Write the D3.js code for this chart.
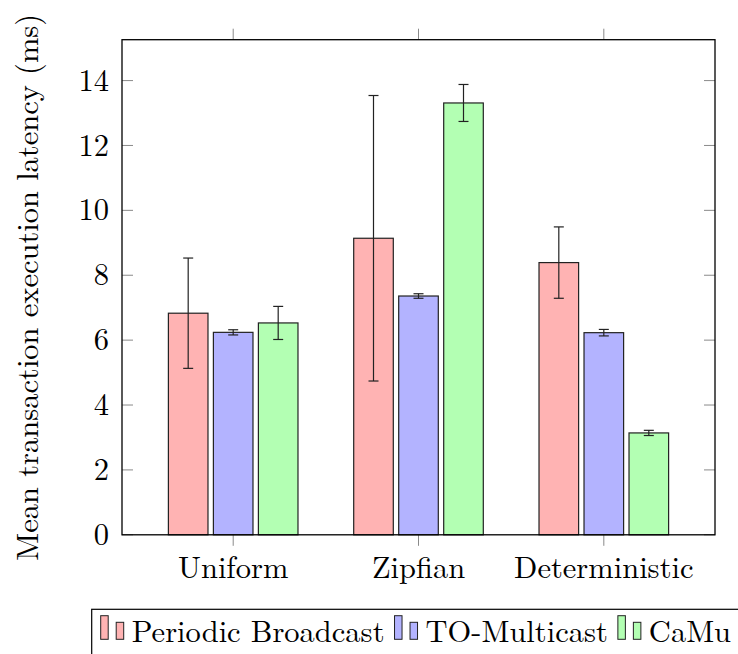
<!DOCTYPE html>
<html><head><meta charset="utf-8">
<script src="https://cdn.jsdelivr.net/npm/d3@7"></script>
<style>
html,body{margin:0;padding:0;background:#fff;}
svg{display:block;}
</style></head>
<body>
<svg id="chart" width="738" height="654" font-family="'Latin Modern Roman', 'Liberation Serif', serif"></svg>
<script>
const categories = ["Uniform", "Zipfian", "Deterministic"];
const seriesNames = ["Periodic Broadcast", "TO-Multicast", "CaMu"];
const periodicValues = [6.83, 9.14, 8.39];
const periodicErrors = [1.70, 4.40, 1.10];
const toMulticastValues = [6.24, 7.36, 6.23];
const toMulticastErrors = [0.08, 0.07, 0.10];
const camuValues = [6.53, 13.31, 3.14];
const camuErrors = [0.51, 0.57, 0.08];
const yTicks = [0, 2, 4, 6, 8, 10, 12, 14];
const fills = ["#ffb3b3", "#b3b3ff", "#b3ffb3"];

const series = [
  {name: seriesNames[0], values: periodicValues, errors: periodicErrors, fill: fills[0]},
  {name: seriesNames[1], values: toMulticastValues, errors: toMulticastErrors, fill: fills[1]},
  {name: seriesNames[2], values: camuValues, errors: camuErrors, fill: fills[2]}
];

const svg = d3.select("#chart");
const L = 122, R = 715, T = 39.7, B = 534.8;
const x = d3.scaleLinear().domain([-0.6, categories.length - 1 + 0.6]).range([L, R]);
const y = d3.scaleLinear().domain([0, 15.26]).range([B, T]);
const barW = 39.6, barStep = 45, tickLen = 11, capW = 10;
const FS = 30.5;

// y ticks (inward, both sides)
const tickG = svg.append("g");
yTicks.forEach(t => {
  tickG.append("line").attr("x1", L).attr("x2", L + tickLen).attr("y1", y(t)).attr("y2", y(t))
    .attr("stroke", "#8a8a8a").attr("stroke-width", 1);
  tickG.append("line").attr("x1", R - tickLen).attr("x2", R).attr("y1", y(t)).attr("y2", y(t))
    .attr("stroke", "#8a8a8a").attr("stroke-width", 1);
  svg.append("text").attr("x", L - 13).attr("y", y(t)).attr("dy", "0.33em")
    .attr("text-anchor", "end").attr("font-size", FS).text(t);
});
// x ticks (outward, top and bottom)
categories.forEach((c, i) => {
  tickG.append("line").attr("x1", x(i)).attr("x2", x(i)).attr("y1", B).attr("y2", B + tickLen)
    .attr("stroke", "#8a8a8a").attr("stroke-width", 1);
  tickG.append("line").attr("x1", x(i)).attr("x2", x(i)).attr("y1", T - tickLen).attr("y2", T)
    .attr("stroke", "#8a8a8a").attr("stroke-width", 1);
  svg.append("text").attr("x", x(i)).attr("y", 578.3).attr("text-anchor", "middle")
    .attr("font-size", FS).text(c);
});

// bars
series.forEach((s, j) => {
  const g = svg.append("g");
  s.values.forEach((v, i) => {
    const cx = x(i) + (j - 1) * barStep;
    g.append("rect").attr("x", cx - barW / 2).attr("y", y(v)).attr("width", barW)
      .attr("height", y(0) - y(v)).attr("fill", s.fill).attr("stroke", "#222").attr("stroke-width", 1.2);
  });
});
// error bars
series.forEach((s, j) => {
  const g = svg.append("g").attr("stroke", "#222").attr("stroke-width", 1.2);
  s.values.forEach((v, i) => {
    const cx = x(i) + (j - 1) * barStep;
    const hi = y(v + s.errors[i]), lo = y(v - s.errors[i]);
    g.append("line").attr("x1", cx).attr("x2", cx).attr("y1", hi).attr("y2", lo);
    g.append("line").attr("x1", cx - capW / 2).attr("x2", cx + capW / 2).attr("y1", hi).attr("y2", hi);
    g.append("line").attr("x1", cx - capW / 2).attr("x2", cx + capW / 2).attr("y1", lo).attr("y2", lo);
  });
});

// frame
svg.append("rect").attr("x", L).attr("y", T).attr("width", R - L).attr("height", B - T)
  .attr("fill", "none").attr("stroke", "#000").attr("stroke-width", 1.3);

// y label
svg.append("text").attr("transform", `translate(38,${(T + B) / 2}) rotate(-90)`)
  .attr("text-anchor", "middle").attr("font-size", FS).text("Mean transaction execution latency (ms)");

// legend
const lg = svg.append("g");
lg.append("rect").attr("x", 91.7).attr("y", 609.3).attr("width", 700).attr("height", 100)
  .attr("fill", "#fff").attr("stroke", "#000").attr("stroke-width", 1.2);
let lx = 100.7;
const lBase = 639.3;
series.forEach(s => {
  lg.append("rect").attr("x", lx).attr("y", lBase - 23.6).attr("width", 7.5).attr("height", 23.6)
    .attr("fill", s.fill).attr("stroke", "#222").attr("stroke-width", 1);
  lg.append("rect").attr("x", lx + 15.5).attr("y", lBase - 17).attr("width", 7.5).attr("height", 17)
    .attr("fill", s.fill).attr("stroke", "#222").attr("stroke-width", 1);
  const t = lg.append("text").attr("x", lx + 31).attr("y", 641.7).attr("font-size", FS).text(s.name);
  lx = lx + 31 + t.node().getComputedTextLength() + 10;
});
</script>
</body></html>
